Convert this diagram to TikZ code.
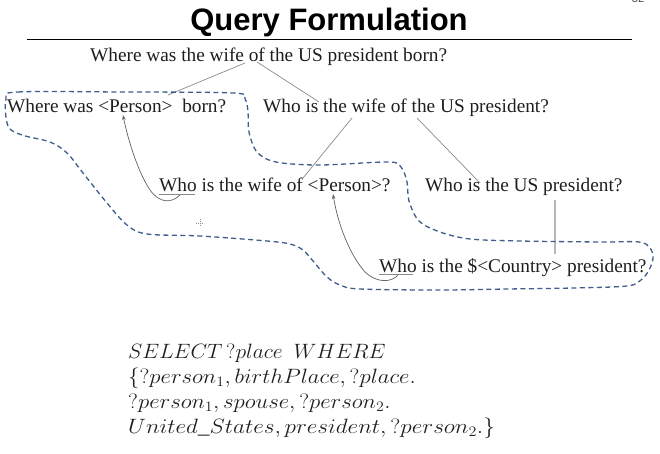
\documentclass[tikz,border=0pt]{standalone}
\usepackage{graphicx}
\usepackage{fontspec}
\setmainfont{Liberation Serif}
\newfontfamily\titlefont{Liberation Sans}
\usetikzlibrary{arrows.meta,calc}
\definecolor{txtcol}{HTML}{1E1E1E}
\definecolor{loopcol}{HTML}{3E5C8C}
\definecolor{linkcol}{HTML}{8A8A8A}
\definecolor{lightlink}{HTML}{B8B8B8}
\definecolor{curvecol}{HTML}{606060}
\newcommand{\sqline}[2][1.12]{\scalebox{#1}[1]{$#2$}}
\tikzset{
  qtext/.style={font=\fontsize{19.3}{22}\selectfont, inner sep=0pt, anchor=base west, text=txtcol},
  sparql/.style={font=\fontsize{20.74}{24}\selectfont, inner sep=0pt, anchor=base west, text=txtcol},
  link/.style={draw=linkcol, line width=0.7pt},
  lightline/.style={draw=lightlink, line width=1.3pt},
  refarrow/.style={draw=curvecol, line width=0.7pt, -{Stealth[length=5pt,width=3.5pt]}},
  uline/.style={draw=linkcol, line width=0.9pt},
  loopline/.style={draw=loopcol, line width=1.3pt, dash pattern=on 5pt off 3.5pt},
}
\begin{document}
\begin{tikzpicture}[x=1pt,y=-1pt]
\useasboundingbox (0,0) rectangle (660,454);
% page number (cut off at the top edge)
\node[font=\titlefont\fontsize{11}{12}\selectfont, text=black!70, inner sep=0pt, anchor=base] (pnum) at (638,3) {32};
% title
\node[font=\titlefont\bfseries\fontsize{31}{34}\selectfont, inner sep=0pt, anchor=base, text=black] (title) at (329,31) {Query Formulation};
\coordinate (ruleL) at (27,40);
\coordinate (ruleR) at (632,40);
\draw[line width=1pt, black] (ruleL) -- (ruleR);

% questions
\node[qtext] (q0) at (90,62) {Where was the wife of the US president born?};
\node[qtext] (q1) at (7,113) {Where was <Person>~~born?};
\node[qtext] (q2) at (263,113) {Who is the wife of the US president?};
\node[qtext] (q3) at (159,192) {Who is the wife of <Person>?};
\node[qtext] (q4) at (425,192) {Who is the US president?};
\node[qtext] (q5) at (379,272) {Who is the \$<Country> president?};

% underlines under "Who"
\coordinate (u3a) at (159,194.5);
\coordinate (u3b) at (195,194.5);
\coordinate (u5a) at (379,274.5);
\coordinate (u5b) at (413,274.5);
\draw[uline] (u3a) -- (u3b);
\draw[uline] (u5a) -- (u5b);

% decomposition links
\coordinate (l1a) at (245,63);  \coordinate (l1b) at (168,95);
\coordinate (l2a) at (257,62);  \coordinate (l2b) at (319,102);
\coordinate (l3a) at (352,118); \coordinate (l3b) at (303,178);
\coordinate (l4a) at (417,118); \coordinate (l4b) at (480,183);
\coordinate (l5a) at (555,200); \coordinate (l5b) at (555,254);
\draw[link] (l1a) -- (l1b);
\draw[link] (l2a) -- (l2b);
\draw[link] (l3a) -- (l3b);
\draw[link] (l4a) -- (l4b);
\draw[lightline] (l5a) -- (l5b);

% reference arrows
\coordinate (r1s) at (180,195);
\coordinate (r1e) at (123,115);
\coordinate (r2s) at (398,275);
\coordinate (r2e) at (333,194);
\draw[refarrow] (r1s) .. controls (172,203) and (160,204) .. (150,190) .. controls (138,172) and (128,140) .. (r1e);
\draw[refarrow] (r2s) .. controls (392,282) and (378,284) .. (365,272) .. controls (350,255) and (338,225) .. (r2e);

% dashed loop
\draw[loopline] plot[smooth cycle, tension=0.55] coordinates {
 (6,99) (18,92) (120,92) (233,93) (245,99) (248,112) (249,132) (257,152) (276,162)
 (320,165) (388,162) (401,167) (407,182) (409,201) (419,221) (440,232) (470,239)
 (520,241) (600,242) (639,242) (650,248) (653,258) (649,270) (641,280) (627,286)
 (573,288) (507,289) (440,290) (360,289) (340,285) (327,277) (313,261) (303,250)
 (290,244) (267,241) (200,236) (147,234) (127,225) (107,203) (83,173) (67,153)
 (50,142) (22,135) (8,126)
};

% cursor mark
\coordinate (cur) at (200,223);
\draw[black!45, line width=0.5pt, dash pattern=on 1pt off 1pt] ($(cur)+(-4,0)$) -- ($(cur)+(4,0)$);
\draw[black!45, line width=0.5pt, dash pattern=on 1pt off 1pt] ($(cur)+(0,-4)$) -- ($(cur)+(0,4)$);

% SPARQL
\node[sparql] (s1) at (128,358) {\sqline[1.04]{SELECT\,?place\ \ WHERE}};
\node[sparql] (s2) at (128,383) {\sqline[1.1]{\{?person_1, birthPlace, ?place.}};
\node[sparql] (s3) at (128,408) {\sqline[1.1]{?person_1, spouse, ?person_2.}};
\node[sparql] (s4) at (128,433) {\sqline{United\_States, president, ?person_2.\}}};
\end{tikzpicture}
\end{document}
